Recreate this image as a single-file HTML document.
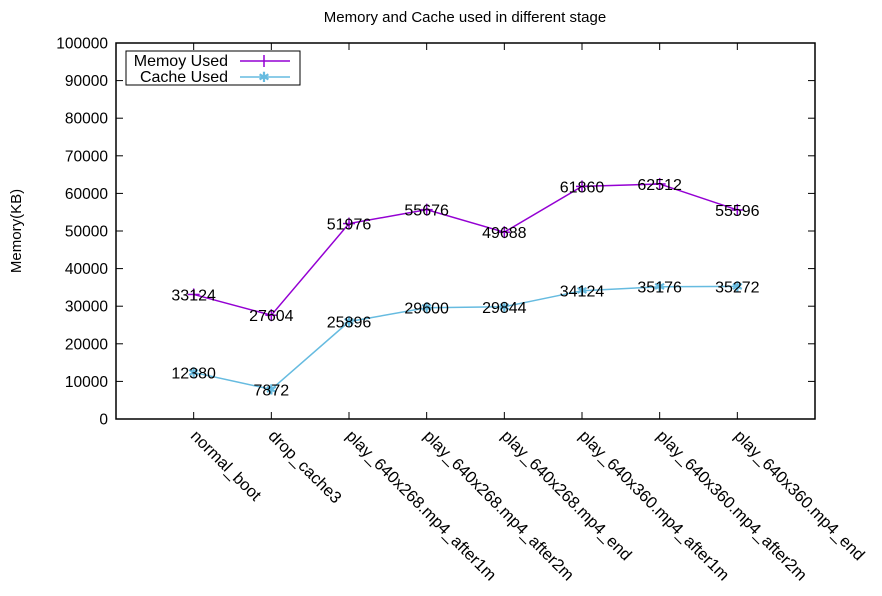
<!DOCTYPE html>
<html><head><meta charset="utf-8"><style>
body{margin:0;background:#fff;}
svg{display:block;font-family:"Liberation Sans",sans-serif;}
</style></head><body>
<svg id="chart" width="882" height="596">
<text x="465" y="22" font-size="15" text-anchor="middle">Memory and Cache used in different stage</text>
<text transform="translate(21,231) rotate(-90)" font-size="15" text-anchor="middle">Memory(KB)</text>
<g id="axes"></g>
<g id="series"></g>
<g>
<rect x="126" y="51" width="174" height="34" fill="#fff" stroke="#000" stroke-width="1"/>
<text x="228" y="66" font-size="16" text-anchor="end">Memoy Used</text>
<line x1="240" y1="61" x2="290" y2="61" stroke="#9400d3" stroke-width="1.5"/>
<line x1="264" y1="55" x2="264" y2="67" stroke="#9400d3" stroke-width="1.5"/>
<text x="228" y="82" font-size="16" text-anchor="end">Cache Used</text>
<line x1="240" y1="77" x2="290" y2="77" stroke="#66bbe0" stroke-width="1.5"/>
<text x="264" y="82" font-size="14" text-anchor="middle" fill="#66bbe0">✱</text>
</g>
</svg>
<script>
const categories=["normal_boot","drop_cache3","play_640x268.mp4_after1m","play_640x268.mp4_after2m","play_640x268.mp4_end","play_640x360.mp4_after1m","play_640x360.mp4_after2m","play_640x360.mp4_end"];
const memoryUsed=[33124,27604,51976,55676,49688,61860,62512,55596];
const cacheUsed=[12380,7872,25896,29600,29844,34124,35176,35272];
const yTicks=[0,10000,20000,30000,40000,50000,60000,70000,80000,90000,100000];
const L=116,R=815,T=43,B=419;
const NS="http://www.w3.org/2000/svg";
function xs(i){return L+(i+1)*(R-L)/(categories.length+1);}
function ys(v){return B-(v/100000)*(B-T);}
function mk(tag,attrs,parent){const e=document.createElementNS(NS,tag);for(const k in attrs)e.setAttribute(k,attrs[k]);parent.appendChild(e);return e;}
const axes=document.getElementById('axes');
const frame=mk('rect',{x:L,y:T,width:R-L,height:B-T,fill:'none',stroke:'#000','stroke-width':1.5},axes);


yTicks.forEach(v=>{
  const y=ys(v);
  mk('line',{x1:L,y1:y,x2:L+7,y2:y,stroke:'#000'},axes);
  mk('line',{x1:R,y1:y,x2:R-7,y2:y,stroke:'#000'},axes);
  const t=mk('text',{x:L-8,y:y+5.5,'font-size':15.5,'text-anchor':'end'},axes);
  t.textContent=v;
  
  
});
categories.forEach((c,i)=>{
  const x=xs(i);
  mk('line',{x1:x,y1:B,x2:x,y2:B-7,stroke:'#000'},axes);
  mk('line',{x1:x,y1:T,x2:x,y2:T+7,stroke:'#000'},axes);
  const t=mk('text',{transform:`translate(${x+4},${B+10}) rotate(45)`,'font-size':16.5,'text-anchor':'start','dominant-baseline':'hanging'},axes);
  t.textContent=c;
  
  
});
const ser=document.getElementById('series');
function drawSeries(vals,color,name,marker){
  const pts=vals.map((v,i)=>xs(i)+','+ys(v)).join(' ');
  const pl=mk('polyline',{points:pts,fill:'none',stroke:color,'stroke-width':1.5},ser);
  
  
  vals.forEach((v,i)=>{
    const x=xs(i),y=ys(v);
    if(marker==='plus'){
      mk('line',{x1:x,y1:y-6,x2:x,y2:y+6,stroke:color,'stroke-width':1.5},ser);
      mk('line',{x1:x-6,y1:y,x2:x+6,y2:y,stroke:color,'stroke-width':1.5},ser);
    }else{
      const m=mk('text',{x:x,y:y+5,'font-size':14,'text-anchor':'middle',fill:color},ser);
      m.textContent='✱';
    }
    const t=mk('text',{x:x,y:y+6,'font-size':16,'text-anchor':'middle',fill:'#000'},ser);
    t.textContent=v;
    
    
  });
}
drawSeries(memoryUsed,'#9400d3','memory-used','plus');
drawSeries(cacheUsed,'#66bbe0','cache-used','star');
</script>
</body></html>
